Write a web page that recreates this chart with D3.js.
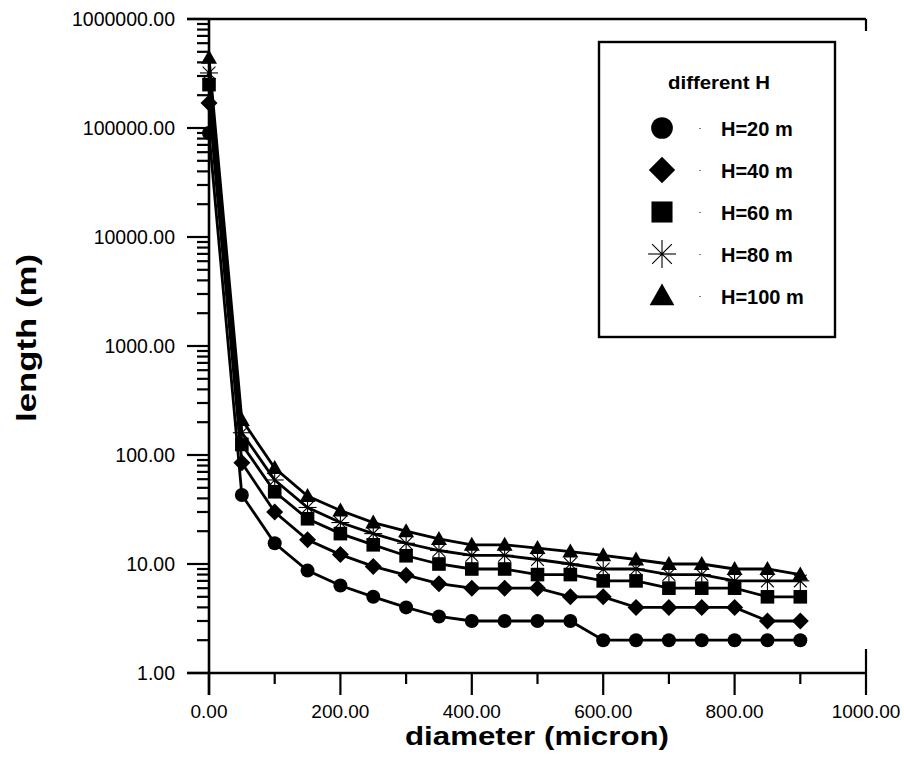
<!DOCTYPE html>
<html lang="en">
<head>
  <meta charset="UTF-8">
  <title>length vs diameter for different H</title>
  <style>
    html, body { margin: 0; background: #fff; }
    text { font-family: "Liberation Sans", Arial, sans-serif; fill: #000; }
    .series { fill: none; stroke: #000; stroke-width: 2.8px; }
    .axis-line { stroke: #000; stroke-width: 2.6px; fill: none; }
    .tick-line { stroke: #000; stroke-width: 2.2px; }
  </style>
</head>
<body>
<svg id="chart" width="904" height="767" viewBox="0 0 904 767"></svg>
<script src="https://d3js.org/d3.v7.min.js"></script>
<script>

// data
const diameters = [0, 50, 100, 150, 200, 250, 300, 350, 400, 450, 500, 550, 600, 650, 700, 750, 800, 850, 900];
const h20  = [90000, 43, 15.5, 8.7, 6.35, 5.0, 4.0, 3.3, 3.0, 3.0, 3.0, 3.0, 2.0, 2.0, 2.0, 2.0, 2.0, 2.0, 2.0];
const h40  = [170000, 85, 30, 16.7, 12.2, 9.5, 7.9, 6.6, 6, 6, 6, 5, 5, 4, 4, 4, 4, 3, 3];
const h60  = [250000, 125, 46, 26, 19, 15, 11.9, 10, 9, 9, 8, 8, 7, 7, 6, 6, 6, 5, 5];
const h80  = [320000, 160, 59, 33, 24, 19, 15.5, 13.3, 12, 12, 11, 10, 9, 9, 8, 8, 7, 7, 7];
const h100 = [440000, 210, 76, 42, 31, 24, 20, 17, 15, 15, 14, 13, 12, 11, 10, 10, 9, 9, 8];

const seriesNames = ["H=20 m", "H=40 m", "H=60 m", "H=80 m", "H=100 m"];
const seriesValues = [h20, h40, h60, h80, h100];
const seriesSymbols = ["circle", "diamond", "square", "star", "triangle"];

const xTicks = [0, 200, 400, 600, 800, 1000];
const xMinorTicks = [100, 300, 500, 700, 900];
const yTicks = [1, 10, 100, 1000, 10000, 100000, 1000000];

const svg = d3.select("#chart");

const x = d3.scaleLinear().domain([0, 1000]).range([209, 866]);
const y = d3.scaleLog().domain([1, 1000000]).range([673, 19]);

// marker drawing
function drawMarker(g, type, cx, cy, s) {
  if (type === "circle") {
    g.append("circle").attr("cx", cx).attr("cy", cy).attr("r", 7 * s).attr("fill", "#000");
  } else if (type === "diamond") {
    const r = 8.5 * s;
    g.append("path").attr("d", `M${cx},${cy - r}L${cx + r},${cy}L${cx},${cy + r}L${cx - r},${cy}Z`).attr("fill", "#000");
  } else if (type === "square") {
    const r = 6.8 * s;
    g.append("rect").attr("x", cx - r).attr("y", cy - r).attr("width", 2 * r).attr("height", 2 * r).attr("fill", "#000");
  } else if (type === "triangle") {
    const r = 8 * s;
    g.append("path").attr("d", `M${cx},${cy - r}L${cx + r},${cy + r * 0.75}L${cx - r},${cy + r * 0.75}Z`).attr("fill", "#000");
  } else if (type === "star") {
    const r = 9 * s;
    const st = g.append("g").attr("stroke", "#000").attr("stroke-width", 1.1);
    for (let i = 0; i < 4; i++) {
      const a = i * Math.PI / 4;
      st.append("line")
        .attr("x1", cx - r * Math.cos(a)).attr("y1", cy - r * Math.sin(a))
        .attr("x2", cx + r * Math.cos(a)).attr("y2", cy + r * Math.sin(a));
    }
    g.append("circle").attr("cx", cx).attr("cy", cy).attr("r", 1.5).attr("fill", "#000");
  }
}

// axes frame
const axes = svg.append("g");
axes.append("line").attr("class", "axis-line")
  .attr("x1", x(0)).attr("x2", x(0)).attr("y1", y(1000000)).attr("y2", y(1) + 22);
axes.append("line").attr("class", "axis-line")
  .attr("x1", x(0) - 22).attr("x2", x(1000)).attr("y1", y(1)).attr("y2", y(1));
axes.append("line").attr("class", "axis-line")
  .attr("x1", x(0) - 22).attr("x2", x(1000)).attr("y1", y(1000000)).attr("y2", y(1000000));
axes.append("line").attr("class", "tick-line")
  .attr("x1", x(1000)).attr("x2", x(1000)).attr("y1", y(1000000)).attr("y2", y(1000000) + 12);
axes.append("line").attr("class", "tick-line")
  .attr("x1", x(1000)).attr("x2", x(1000)).attr("y1", y(1) - 24).attr("y2", y(1));

// x ticks
axes.selectAll(".xmaj").data(xTicks).join("line").attr("class", "tick-line")
  .attr("x1", d => x(d)).attr("x2", d => x(d)).attr("y1", y(1)).attr("y2", y(1) + 22);
axes.selectAll(".xmin").data(xMinorTicks).join("line").attr("class", "tick-line")
  .attr("x1", d => x(d)).attr("x2", d => x(d)).attr("y1", y(1)).attr("y2", y(1) + 11);
axes.selectAll(".xlab").data(xTicks).join("text")
  .attr("x", d => x(d)).attr("y", y(1) + 45)
  .attr("text-anchor", "middle").attr("font-size", 19)
  .text(d => d3.format(".2f")(d));

// y ticks
const yMinor = [];
yTicks.slice(0, -1).forEach(t => { for (let k = 2; k <= 9; k++) yMinor.push(t * k); });
axes.selectAll(".ymaj").data(yTicks).join("line").attr("class", "tick-line")
  .attr("x1", x(0) - 22).attr("x2", x(0)).attr("y1", d => y(d)).attr("y2", d => y(d));
axes.selectAll(".ymin").data(yMinor).join("line").attr("class", "tick-line")
  .attr("x1", x(0) - 12).attr("x2", x(0)).attr("y1", d => y(d)).attr("y2", d => y(d));
axes.selectAll(".ylab").data(yTicks).join("text")
  .attr("x", x(0) - 34).attr("y", d => y(d) + 7)
  .attr("text-anchor", "end").attr("font-size", 19.5)
  .text(d => d3.format(".2f")(d));

// axis titles
svg.append("text")
  .attr("x", 537).attr("y", 745)
  .attr("text-anchor", "middle").attr("font-size", 26).attr("font-weight", "bold")
  .attr("textLength", 264).attr("lengthAdjust", "spacingAndGlyphs")
  .text("diameter (micron)");
svg.append("text")
  .attr("transform", "translate(36,338) rotate(-90)")
  .attr("text-anchor", "middle").attr("font-size", 28).attr("font-weight", "bold")
  .attr("textLength", 168).attr("lengthAdjust", "spacingAndGlyphs")
  .text("length (m)");

// series
const line = d3.line().x((d, i) => x(diameters[i])).y(d => y(d));
seriesValues.forEach((vals, k) => {
  svg.append("path").datum(vals).attr("class", "series").attr("d", line);
});
seriesValues.forEach((vals, k) => {
  const g = svg.append("g");
  vals.forEach((v, i) => drawMarker(g, seriesSymbols[k], x(diameters[i]), y(v), 1));
});

// legend
const legend = svg.append("g");
legend.append("rect").attr("x", 599).attr("y", 42).attr("width", 236).attr("height", 295)
  .attr("fill", "#fff").attr("stroke", "#000").attr("stroke-width", 2.4);
legend.append("text").attr("x", 719).attr("y", 89).attr("text-anchor", "middle")
  .attr("font-size", 18).attr("font-weight", "bold")
  .attr("textLength", 102).attr("lengthAdjust", "spacingAndGlyphs")
  .text("different H");
seriesNames.forEach((name, k) => {
  const cy = 128 + k * 42;
  drawMarker(legend, seriesSymbols[k], 662, cy, 1.55);
  legend.append("rect").attr("x", 699.5).attr("y", cy).attr("width", 1).attr("height", 1).attr("fill", "#000");
  legend.append("text").attr("x", 721).attr("y", cy + 7.5)
    .attr("font-size", 20).attr("font-weight", "bold").text(name);
});

</script>
</body>
</html>
